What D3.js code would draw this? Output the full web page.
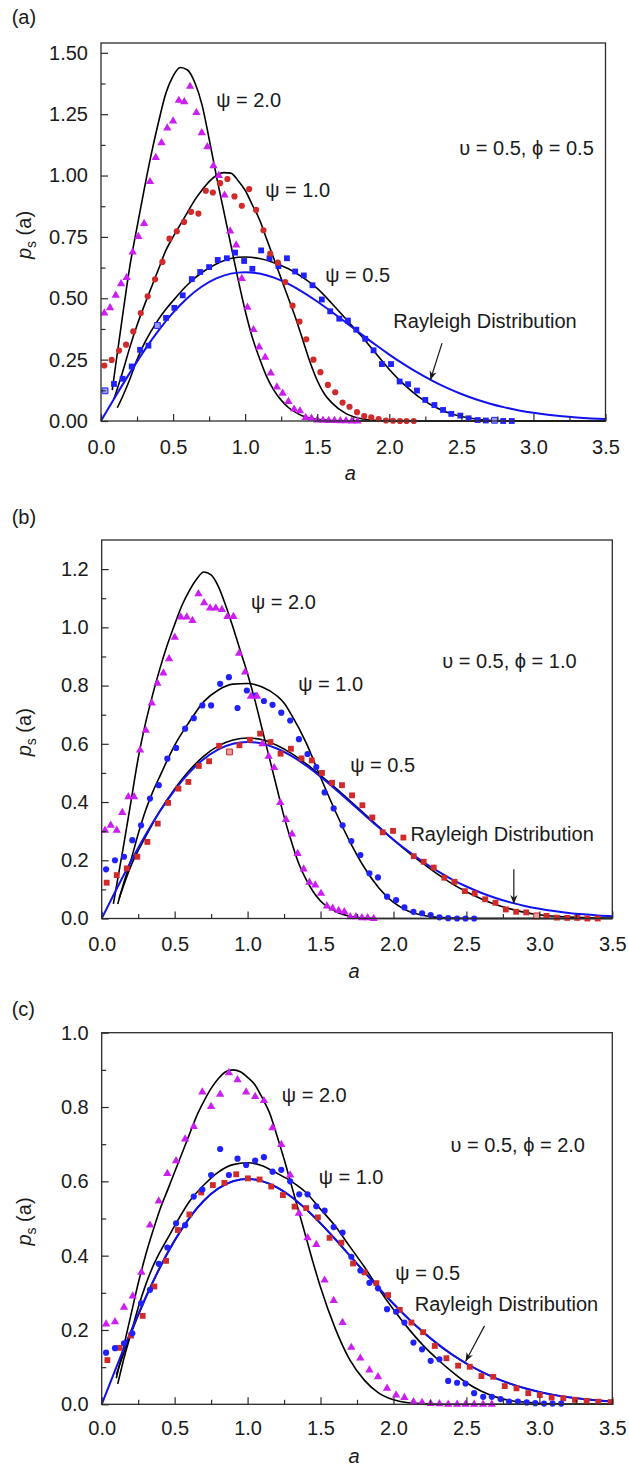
<!DOCTYPE html>
<html><head><meta charset="utf-8">
<script src="https://cdn.jsdelivr.net/npm/d3@7"></script>
<style>
html,body{margin:0;padding:0;background:#fff;}
svg{display:block;font-family:"Liberation Sans",Arial,"DejaVu Sans",sans-serif;}
</style></head><body>
<svg id="chart" width="629" height="1470"></svg>
<script>
// ---------- shared ticks ----------
const xTicks = [0, 0.5, 1.0, 1.5, 2.0, 2.5, 3.0, 3.5];
const xMinor = [0.25, 0.75, 1.25, 1.75, 2.25, 2.75, 3.25];
const yTicksA = [0, 0.25, 0.5, 0.75, 1.0, 1.25, 1.5];
const yMinorA = [0.125, 0.375, 0.625, 0.875, 1.125, 1.375];
const yTicksB = [0, 0.2, 0.4, 0.6, 0.8, 1.0, 1.2];
const yMinorB = [0.1, 0.3, 0.5, 0.7, 0.9, 1.1];
const yTicksC = [0, 0.2, 0.4, 0.6, 0.8, 1.0];
const yMinorC = [0.1, 0.3, 0.5, 0.7, 0.9];

// ---------- Rayleigh distribution (blue line, same in all panels) ----------
const rayleigh = [[0,0],[0.1,0.0995],[0.2,0.196],[0.3,0.2869],[0.4,0.3693],[0.5,0.4412],[0.6,0.5012],[0.7,0.5478],[0.8,0.5809],[0.9,0.6004],[1.0,0.6065],[1.1,0.6006],[1.2,0.584],[1.3,0.5585],[1.4,0.5254],[1.5,0.487],[1.6,0.4449],[1.7,0.4007],[1.8,0.3562],[1.9,0.3125],[2.0,0.2707],[2.1,0.2316],[2.2,0.1956],[2.3,0.1633],[2.4,0.1347],[2.5,0.1098],[2.6,0.0885],[2.7,0.0705],[2.8,0.0555],[2.9,0.0432],[3.0,0.0333],[3.1,0.0254],[3.2,0.0191],[3.3,0.0143],[3.4,0.0105],[3.5,0.0077]];

// ---------- Panel (a): upsilon = 0.5, phi = 0.5 ----------
const curveA_psi2 = [[0.078,0.126],[0.1,0.22],[0.15,0.43],[0.2,0.63],[0.25,0.79],[0.3,0.945],[0.35,1.09],[0.4,1.22],[0.45,1.335],[0.5,1.405],[0.55,1.44],[0.6,1.43],[0.65,1.38],[0.7,1.29],[0.75,1.15],[0.8,1.0],[0.85,0.86],[0.9,0.72],[0.95,0.58],[1.0,0.45],[1.05,0.34],[1.1,0.255],[1.15,0.18],[1.2,0.125],[1.25,0.085],[1.3,0.055],[1.35,0.035],[1.4,0.02],[1.5,0.007],[1.6,0.002],[1.7,0],[3.5,0]];
const curveA_psi1 = [[0.09,0.09],[0.15,0.2],[0.2,0.3],[0.25,0.39],[0.3,0.47],[0.35,0.545],[0.4,0.62],[0.45,0.695],[0.5,0.75],[0.55,0.8],[0.6,0.85],[0.65,0.9],[0.7,0.94],[0.75,0.975],[0.8,1.0],[0.85,1.012],[0.9,1.01],[0.95,0.98],[1.0,0.94],[1.05,0.88],[1.1,0.82],[1.15,0.74],[1.2,0.66],[1.25,0.58],[1.3,0.5],[1.35,0.42],[1.4,0.33],[1.45,0.24],[1.5,0.165],[1.55,0.11],[1.6,0.075],[1.7,0.03],[1.8,0.01],[1.9,0.003],[2.0,0],[3.5,0]];
const curveA_psi05 = [[0.113,0.054],[0.15,0.1],[0.2,0.17],[0.25,0.25],[0.3,0.315],[0.35,0.368],[0.4,0.415],[0.45,0.455],[0.5,0.49],[0.6,0.555],[0.7,0.605],[0.8,0.64],[0.9,0.662],[1.0,0.668],[1.1,0.662],[1.2,0.645],[1.3,0.62],[1.4,0.585],[1.5,0.54],[1.6,0.48],[1.7,0.415],[1.8,0.35],[1.9,0.28],[2.0,0.21],[2.1,0.15],[2.2,0.1],[2.3,0.062],[2.4,0.036],[2.5,0.018],[2.6,0.008],[2.7,0.003],[2.8,0.001],[3.0,0],[3.5,0]];
const triA = [[0.023,0.44],[0.063,0.461],[0.102,0.512],[0.139,0.559],[0.178,0.584],[0.22,0.688],[0.259,0.751],[0.299,0.804],[0.34,0.975],[0.38,1.073],[0.42,1.133],[0.46,1.193],[0.5,1.222],[0.54,1.306],[0.578,1.3],[0.618,1.363],[0.662,1.256],[0.699,1.174],[0.738,1.117],[0.78,1.04],[0.817,1.0],[0.857,0.92],[0.896,0.774],[0.938,0.717],[0.977,0.58],[1.016,0.463],[1.058,0.372],[1.097,0.301],[1.139,0.259],[1.178,0.195],[1.22,0.138],[1.26,0.113],[1.3,0.079],[1.34,0.048],[1.38,0.041],[1.42,0.014],[1.46,0.011],[1.5,0.004],[1.54,0.003],[1.58,0.002],[1.62,0.002],[1.66,0.001],[1.7,0.001],[1.74,0],[1.78,0]];
const circA = [[0.023,0.226],[0.074,0.249],[0.125,0.287],[0.174,0.311],[0.224,0.365],[0.276,0.44],[0.324,0.508],[0.375,0.577],[0.426,0.648],[0.475,0.743],[0.526,0.773],[0.576,0.811],[0.625,0.852],[0.676,0.845],[0.727,0.938],[0.776,0.931],[0.826,0.969],[0.877,0.986],[0.926,0.915],[0.977,0.877],[1.028,0.945],[1.076,0.86],[1.127,0.777],[1.174,0.682],[1.227,0.645],[1.278,0.566],[1.329,0.47],[1.377,0.405],[1.424,0.333],[1.474,0.25],[1.522,0.199],[1.574,0.147],[1.625,0.117],[1.676,0.075],[1.724,0.058],[1.776,0.036],[1.826,0.02],[1.875,0.015],[1.926,0.008],[1.977,0.002],[2.026,0.001],[2.074,0],[2.12,0],[2.17,0]];
const sqA = [[0.028,0.123],[0.09,0.151],[0.15,0.172],[0.213,0.222],[0.271,0.29],[0.329,0.307],[0.391,0.389],[0.451,0.42],[0.509,0.461],[0.567,0.512],[0.63,0.578],[0.688,0.607],[0.75,0.627],[0.81,0.656],[0.873,0.663],[0.93,0.686],[0.993,0.652],[1.05,0.62],[1.111,0.695],[1.169,0.663],[1.231,0.631],[1.29,0.663],[1.347,0.609],[1.407,0.593],[1.467,0.553],[1.532,0.495],[1.59,0.447],[1.653,0.417],[1.713,0.409],[1.771,0.372],[1.833,0.335],[1.891,0.288],[1.949,0.232],[2.012,0.232],[2.072,0.161],[2.13,0.15],[2.192,0.124],[2.25,0.086],[2.313,0.065],[2.373,0.045],[2.43,0.029],[2.493,0.022],[2.55,0.011],[2.613,0.004],[2.67,0.002],[2.73,0.003],[2.79,0],[2.85,0]];
const hollowA = [0.028, 0.391, 2.73];

// ---------- Panel (b): upsilon = 0.5, phi = 1.0 ----------
const curveB_psi2 = [[0.08,0.05],[0.15,0.25],[0.2,0.4],[0.25,0.55],[0.3,0.67],[0.35,0.77],[0.4,0.86],[0.45,0.94],[0.5,1.01],[0.55,1.075],[0.6,1.125],[0.65,1.165],[0.7,1.19],[0.75,1.18],[0.8,1.14],[0.85,1.075],[0.9,1.0],[0.95,0.92],[1.0,0.84],[1.05,0.75],[1.1,0.65],[1.15,0.55],[1.2,0.45],[1.25,0.35],[1.3,0.265],[1.35,0.19],[1.4,0.135],[1.45,0.092],[1.5,0.06],[1.6,0.025],[1.7,0.008],[1.8,0.002],[1.9,0],[3.5,0]];
const curveB_psi1 = [[0.11,0.05],[0.15,0.12],[0.2,0.2],[0.25,0.29],[0.3,0.37],[0.35,0.435],[0.4,0.49],[0.5,0.595],[0.6,0.675],[0.7,0.745],[0.8,0.785],[0.9,0.805],[1.0,0.807],[1.1,0.795],[1.2,0.765],[1.25,0.74],[1.3,0.7],[1.4,0.605],[1.5,0.485],[1.6,0.37],[1.7,0.265],[1.8,0.175],[1.9,0.105],[2.0,0.055],[2.1,0.026],[2.2,0.011],[2.3,0.004],[2.5,0],[3.5,0]];
const curveB_psi05 = [[0.12,0.07],[0.2,0.18],[0.3,0.28],[0.4,0.37],[0.5,0.445],[0.6,0.508],[0.7,0.558],[0.8,0.593],[0.9,0.613],[1.0,0.62],[1.1,0.614],[1.2,0.595],[1.3,0.567],[1.4,0.532],[1.5,0.492],[1.6,0.45],[1.7,0.405],[1.8,0.36],[1.9,0.315],[2.0,0.27],[2.1,0.228],[2.2,0.19],[2.3,0.153],[2.4,0.12],[2.5,0.092],[2.6,0.068],[2.7,0.048],[2.8,0.033],[2.9,0.021],[3.0,0.013],[3.2,0.005],[3.5,0.001]];
const triB = [[0.023,0.303],[0.062,0.32],[0.103,0.303],[0.141,0.364],[0.183,0.418],[0.222,0.418],[0.263,0.578],[0.302,0.646],[0.343,0.74],[0.382,0.808],[0.423,0.843],[0.462,0.892],[0.501,0.966],[0.542,1.035],[0.583,1.035],[0.622,1.023],[0.663,1.115],[0.702,1.084],[0.743,1.066],[0.782,1.066],[0.824,1.061],[0.862,1.037],[0.903,1.037],[0.942,0.911],[0.983,0.846],[1.023,0.763],[1.064,0.763],[1.102,0.6],[1.144,0.557],[1.182,0.518],[1.224,0.398],[1.263,0.34],[1.304,0.29],[1.343,0.223],[1.384,0.17],[1.424,0.124],[1.464,0.115],[1.503,0.086],[1.544,0.043],[1.583,0.035],[1.624,0.027],[1.663,0.023],[1.704,0.006],[1.743,0.006],[1.784,0.002],[1.823,0.002],[1.864,0]];
const circB = [[0.03,0.169],[0.091,0.2],[0.153,0.212],[0.21,0.269],[0.27,0.32],[0.331,0.412],[0.391,0.458],[0.45,0.549],[0.51,0.586],[0.572,0.652],[0.631,0.688],[0.69,0.732],[0.75,0.732],[0.812,0.806],[0.872,0.829],[0.931,0.723],[0.995,0.783],[1.052,0.766],[1.112,0.747],[1.171,0.734],[1.231,0.707],[1.292,0.68],[1.352,0.616],[1.411,0.565],[1.471,0.52],[1.528,0.433],[1.59,0.378],[1.651,0.32],[1.711,0.266],[1.773,0.218],[1.835,0.155],[1.894,0.141],[1.956,0.075],[2.018,0.063],[2.075,0.038],[2.137,0.023],[2.196,0.018],[2.255,0.012],[2.315,0.004],[2.375,0.001],[2.436,0],[2.494,0],[2.553,0]];
const sqB = [[0.034,0.123],[0.103,0.149],[0.172,0.172],[0.244,0.212],[0.313,0.263],[0.384,0.326],[0.455,0.397],[0.526,0.446],[0.594,0.469],[0.666,0.524],[0.736,0.54],[0.805,0.593],[0.876,0.572],[0.944,0.595],[1.016,0.614],[1.086,0.635],[1.157,0.606],[1.226,0.566],[1.297,0.583],[1.37,0.55],[1.44,0.543],[1.51,0.5],[1.579,0.466],[1.647,0.458],[1.716,0.423],[1.787,0.389],[1.855,0.347],[1.926,0.296],[1.997,0.301],[2.068,0.278],[2.139,0.214],[2.207,0.195],[2.276,0.175],[2.349,0.14],[2.418,0.126],[2.489,0.094],[2.557,0.086],[2.629,0.066],[2.699,0.054],[2.77,0.031],[2.841,0.023],[2.91,0.021],[2.981,0.009],[3.049,0.009],[3.12,0.003],[3.191,0.002],[3.26,0.002],[3.329,0],[3.4,0]];
const hollowB = [0.876, 2.981];

// ---------- Panel (c): upsilon = 0.5, phi = 2.0 ----------
const curveC_psi2 = [[0.1,0.07],[0.15,0.154],[0.2,0.24],[0.25,0.325],[0.3,0.4],[0.35,0.465],[0.4,0.525],[0.45,0.575],[0.5,0.625],[0.55,0.675],[0.6,0.725],[0.65,0.775],[0.7,0.815],[0.75,0.85],[0.8,0.877],[0.85,0.895],[0.9,0.9],[0.95,0.895],[1.0,0.88],[1.05,0.86],[1.1,0.825],[1.15,0.785],[1.2,0.725],[1.25,0.66],[1.3,0.59],[1.35,0.52],[1.4,0.45],[1.45,0.38],[1.5,0.315],[1.6,0.205],[1.7,0.12],[1.8,0.065],[1.9,0.03],[2.0,0.012],[2.1,0.004],[2.3,0],[3.5,0]];
const curveC_psi1 = [[0.11,0.055],[0.15,0.12],[0.2,0.19],[0.25,0.26],[0.3,0.32],[0.35,0.37],[0.4,0.41],[0.45,0.445],[0.5,0.48],[0.6,0.545],[0.7,0.59],[0.8,0.625],[0.9,0.645],[1.0,0.65],[1.1,0.642],[1.2,0.622],[1.3,0.6],[1.4,0.57],[1.5,0.525],[1.6,0.48],[1.7,0.425],[1.8,0.37],[1.9,0.31],[2.0,0.255],[2.1,0.205],[2.2,0.16],[2.3,0.122],[2.4,0.088],[2.5,0.058],[2.6,0.036],[2.7,0.02],[2.8,0.01],[3.0,0.003],[3.2,0],[3.5,0]];
const curveC_psi05 = [[0.1,0.08],[0.2,0.19],[0.3,0.285],[0.4,0.368],[0.5,0.44],[0.6,0.5],[0.7,0.548],[0.8,0.581],[0.9,0.6],[1.0,0.607],[1.1,0.6],[1.2,0.584],[1.3,0.558],[1.4,0.525],[1.5,0.487],[1.6,0.445],[1.7,0.4],[1.8,0.356],[1.9,0.312],[2.0,0.27],[2.2,0.195],[2.4,0.134],[2.6,0.088],[2.8,0.055],[3.0,0.033],[3.2,0.019],[3.5,0.008]];
const triC = [[0.03,0.216],[0.091,0.222],[0.153,0.261],[0.213,0.291],[0.272,0.355],[0.331,0.482],[0.391,0.547],[0.45,0.621],[0.51,0.655],[0.572,0.714],[0.631,0.747],[0.69,0.84],[0.75,0.801],[0.812,0.834],[0.872,0.892],[0.931,0.873],[0.99,0.84],[1.052,0.828],[1.112,0.817],[1.171,0.744],[1.231,0.699],[1.292,0.617],[1.352,0.514],[1.411,0.448],[1.471,0.43],[1.528,0.334],[1.59,0.279],[1.651,0.22],[1.711,0.153],[1.773,0.124],[1.835,0.092],[1.894,0.074],[1.956,0.043],[2.018,0.025],[2.075,0.018],[2.137,0.007],[2.196,0.005],[2.255,0.002],[2.315,0.001],[2.375,0],[2.436,0],[2.494,0],[2.553,0],[2.614,0],[2.674,0]];
const circC = [[0.03,0.139],[0.091,0.151],[0.153,0.164],[0.21,0.191],[0.27,0.272],[0.331,0.308],[0.391,0.378],[0.45,0.422],[0.51,0.487],[0.572,0.482],[0.631,0.559],[0.69,0.578],[0.75,0.617],[0.812,0.687],[0.872,0.617],[0.931,0.661],[0.99,0.644],[1.052,0.656],[1.112,0.665],[1.171,0.626],[1.231,0.631],[1.292,0.6],[1.354,0.565],[1.411,0.565],[1.471,0.533],[1.528,0.521],[1.59,0.477],[1.651,0.462],[1.711,0.397],[1.773,0.36],[1.835,0.327],[1.894,0.312],[1.956,0.256],[2.018,0.249],[2.075,0.22],[2.137,0.166],[2.196,0.148],[2.255,0.117],[2.315,0.121],[2.375,0.063],[2.436,0.058],[2.494,0.056],[2.553,0.03],[2.615,0.02],[2.674,0.02],[2.734,0.014],[2.793,0.007],[2.853,0.007],[2.913,0.005],[2.972,0.003],[3.032,0.002],[3.09,0.002],[3.15,0.002]];
const sqC = [[0.039,0.119],[0.121,0.152],[0.201,0.185],[0.281,0.238],[0.361,0.317],[0.441,0.386],[0.522,0.469],[0.601,0.511],[0.682,0.57],[0.762,0.59],[0.841,0.596],[0.922,0.619],[1.002,0.608],[1.082,0.605],[1.162,0.586],[1.242,0.563],[1.322,0.532],[1.402,0.528],[1.482,0.503],[1.562,0.448],[1.643,0.435],[1.723,0.379],[1.802,0.355],[1.883,0.326],[1.963,0.294],[2.043,0.254],[2.123,0.22],[2.203,0.194],[2.283,0.157],[2.363,0.124],[2.443,0.104],[2.523,0.101],[2.603,0.076],[2.684,0.074],[2.763,0.049],[2.843,0.043],[2.924,0.03],[3.003,0.025],[3.084,0.018],[3.164,0.016],[3.244,0.012],[3.324,0.009],[3.404,0.007],[3.489,0.006]];
const hollowC = [];

// ---------- annotation texts (positions in data units) ----------
const notesA = [["ψ = 2.0",0.799,1.28],["ψ = 1.0",1.139,0.913],["ψ = 0.5",1.556,0.567],["υ = 0.5, ϕ = 0.5",2.486,1.084],["Rayleigh Distribution",2.028,0.38]];
const arrowA = [[2.366,0.317],[2.285,0.167]];
const notesB = [["ψ = 2.0",1.023,1.062],["ψ = 1.0",1.347,0.782],["ψ = 0.5",1.704,0.502],["υ = 0.5, ϕ = 1.0",2.334,0.862],["Rayleigh Distribution",2.116,0.265]];
const arrowB = [[2.825,0.169],[2.825,0.05]];
const notesC = [["ψ = 2.0",1.235,0.814],["ψ = 1.0",1.487,0.594],["ψ = 0.5",2.013,0.335],["υ = 0.5, ϕ = 2.0",2.391,0.679],["Rayleigh Distribution",2.146,0.251]];
const arrowC = [[2.624,0.211],[2.494,0.115]];

// ---------- styling ----------
const RED = "#d12a2a", BLUE = "#2121ff", MAG = "#cc1ef2", LINEBLUE = "#1212ee", INK = "#1a1a1a", AX = "#2b2b2b";

const panels = [
  {label:"(a)", lx:11.7, ly:24, left:101, right:605.5, top:43, bottom:421, yMax:1.54,
   yTicks:yTicksA, yMinor:yMinorA, yFmt:d3.format(".2f"), xPad:18.7,
   curves:[curveA_psi2, curveA_psi1, curveA_psi05], tri:triA, circ:circA, circColor:RED, sq:sqA, sqColor:BLUE, hollow:hollowA, notes:notesA, arrow:arrowA},
  {label:"(b)", lx:11.7, ly:524, left:101.7, right:612.3, top:540, bottom:918.5, yMax:1.3,
   yTicks:yTicksB, yMinor:yMinorB, yFmt:d3.format(".1f"), xPad:18.7,
   curves:[curveB_psi2, curveB_psi1, curveB_psi05], tri:triB, circ:circB, circColor:BLUE, sq:sqB, sqColor:RED, hollow:hollowB, notes:notesB, arrow:arrowB},
  {label:"(c)", lx:11.7, ly:1015.5, left:101.7, right:612.3, top:1032.7, bottom:1404.3, yMax:1.0,
   yTicks:yTicksC, yMinor:yMinorC, yFmt:d3.format(".1f"), xPad:16.9,
   curves:[curveC_psi2, curveC_psi1, curveC_psi05], tri:triC, circ:circC, circColor:BLUE, sq:sqC, sqColor:RED, hollow:hollowC, notes:notesC, arrow:arrowC}
];

const svg = d3.select("#chart");
const defs = svg.append("defs");
defs.append("marker").attr("id","arrowhead").attr("viewBox","0 0 10 10").attr("refX",10).attr("refY",5)
  .attr("markerWidth",9).attr("markerHeight",9).attr("markerUnits","userSpaceOnUse").attr("orient","auto")
  .append("path").attr("d","M0,1 L10,5 L0,9 L3,5 Z").attr("fill",INK);

const lighten = c => d3.interpolateRgb(c, "#ffffff")(0.55);

panels.forEach(p => {
  const g = svg.append("g");
  const x = d3.scaleLinear().domain([0, 3.5]).range([p.left, p.right]);
  const y = d3.scaleLinear().domain([0, p.yMax]).range([p.bottom, p.top]);

  // panel label
  g.append("text").attr("x", p.lx).attr("y", p.ly).attr("font-size", 20).attr("fill", INK).text(p.label);

  // curves
  const line = d3.line().x(d => x(d[0])).y(d => y(d[1])).curve(d3.curveMonotoneX);
  p.curves.forEach(c => g.append("path").attr("d", line(c)).attr("fill","none").attr("stroke","#000").attr("stroke-width",1.6));
  g.append("path").attr("d", line(rayleigh)).attr("fill","none").attr("stroke",LINEBLUE).attr("stroke-width",2);

  // markers
  const tri = d3.symbol().type(d3.symbolTriangle).size(30)();
  const cir = d3.symbol().type(d3.symbolCircle).size(30)();
  const sqr = d3.symbol().type(d3.symbolSquare).size(34)();
  const isHollow = d => p.hollow.some(h => Math.abs(h - d[0]) < 1e-9);
  g.append("g").selectAll("path").data(p.sq).join("path").attr("d", sqr)
    .attr("transform", d => `translate(${x(d[0])},${y(d[1])})`)
    .attr("fill", d => isHollow(d) ? lighten(p.sqColor) : p.sqColor)
    .attr("stroke", d => isHollow(d) ? p.sqColor : "none").attr("stroke-width", 1);
  g.append("g").selectAll("path").data(p.circ).join("path").attr("d", cir)
    .attr("transform", d => `translate(${x(d[0])},${y(d[1])})`).attr("fill", p.circColor);
  g.append("g").selectAll("path").data(p.tri).join("path").attr("d", tri)
    .attr("transform", d => `translate(${x(d[0])},${y(d[1])})`).attr("fill", MAG);

  // frame
  g.append("rect").attr("x", p.left).attr("y", p.top).attr("width", p.right - p.left).attr("height", p.bottom - p.top)
    .attr("fill","none").attr("stroke",AX).attr("stroke-width",1.3);

  // axes
  const styleAxis = sel => {
    sel.select(".domain").remove();
    sel.attr("font-family", null).attr("font-size", null);
    sel.selectAll("line").attr("stroke", AX).attr("stroke-width", 1.2);
    sel.selectAll("text").attr("font-size", 20).attr("fill", INK);
  };
  g.append("g").attr("transform", `translate(0,${p.bottom})`)
    .call(d3.axisBottom(x).tickValues(xTicks).tickFormat(d3.format(".1f")).tickSize(-7).tickPadding(p.xPad)).call(styleAxis);
  g.append("g").attr("transform", `translate(0,${p.bottom})`)
    .call(d3.axisBottom(x).tickValues(xMinor).tickFormat("").tickSize(-4.5)).call(styleAxis);
  g.append("g").attr("transform", `translate(${p.left},0)`)
    .call(d3.axisLeft(y).tickValues(p.yTicks).tickFormat(p.yFmt).tickSize(-7).tickPadding(13)).call(styleAxis);
  g.append("g").attr("transform", `translate(${p.left},0)`)
    .call(d3.axisLeft(y).tickValues(p.yMinor).tickFormat("").tickSize(-4.5)).call(styleAxis);

  // axis titles
  g.append("text").attr("x", (p.left + p.right) / 2 - 3).attr("y", p.bottom + 59).attr("text-anchor","middle")
    .attr("font-size", 20).attr("font-style","italic").attr("fill", INK).text("a");
  const yl = g.append("text").attr("transform", `translate(31,${(p.top + p.bottom) / 2 + 3}) rotate(-90)`)
    .attr("text-anchor","middle").attr("font-size", 20).attr("fill", INK);
  yl.append("tspan").attr("font-style","italic").text("p");
  yl.append("tspan").attr("font-size", 14).attr("dy", 5).text("s");
  yl.append("tspan").attr("dy", -5).text(" (a)");

  // annotations
  p.notes.forEach(n => g.append("text").attr("x", x(n[1])).attr("y", y(n[2])).attr("font-size", 20).attr("fill", INK).text(n[0]));
  g.append("line").attr("x1", x(p.arrow[0][0])).attr("y1", y(p.arrow[0][1])).attr("x2", x(p.arrow[1][0])).attr("y2", y(p.arrow[1][1]))
    .attr("stroke", INK).attr("stroke-width", 1.2).attr("marker-end","url(#arrowhead)");
});
</script>
</body></html>
